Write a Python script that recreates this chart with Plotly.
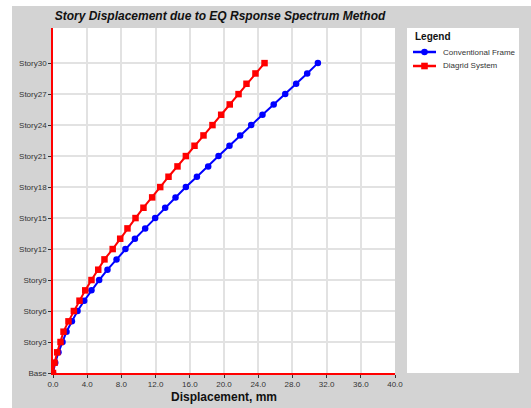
import plotly.graph_objects as go

# Story labels from the base up to the roof
stories = ["Base"] + [f"Story{i}" for i in range(1, 31)]

# Lateral displacement (mm) at each level
conventional_frame = [
    0.00, 0.26, 0.64, 1.11, 1.58, 2.21, 2.87, 3.65, 4.50, 5.40,
    6.37, 7.43, 8.47, 9.58, 10.78, 11.95, 13.12, 14.33, 15.54, 16.83,
    18.15, 19.36, 20.64, 21.89, 23.18, 24.50, 25.81, 27.16, 28.44, 29.73,
    30.98,
]
diagrid_system = [
    0.00, 0.18, 0.49, 0.88, 1.23, 1.81, 2.44, 3.10, 3.77, 4.50,
    5.29, 6.02, 6.98, 7.86, 8.71, 9.65, 10.58, 11.60, 12.54, 13.51,
    14.56, 15.54, 16.55, 17.60, 18.65, 19.67, 20.67, 21.70, 22.63, 23.68,
    24.74,
]

series_names = ["Conventional Frame", "Diagrid System"]
series_colors = ["#0000ff", "#ff0000"]
series_symbols = ["circle", "square"]

W, H = 531, 408
L, R, T, B = 53, 136, 28, 35
PW, PH = W - L - R, H - T - B


def px(x):
    return (x - L) / PW


def py(y):
    return (H - B - y) / PH


FONT = "Liberation Sans, Arial, sans-serif"
GRAY = "#d3d3d3"

fig = go.Figure()
for name, vals, color, sym in zip(series_names, [conventional_frame, diagrid_system],
                                  series_colors, series_symbols):
    fig.add_trace(go.Scatter(
        x=vals, y=stories, name=name, showlegend=False,
        mode="lines+markers", line=dict(color=color, width=2),
        marker=dict(symbol=sym, size=6.5, color=color),
    ))

shapes = [
    # white strips at the left and top edges of the canvas
    dict(type="rect", xref="paper", yref="paper", x0=px(0), x1=px(12), y0=py(H), y1=py(0),
         fillcolor="white", line=dict(width=0), layer="below"),
    dict(type="rect", xref="paper", yref="paper", x0=px(0), x1=px(W), y0=py(6), y1=py(0),
         fillcolor="white", line=dict(width=0), layer="below"),
    # legend panel
    dict(type="rect", xref="paper", yref="paper", x0=px(407), x1=px(519), y0=py(373), y1=py(28),
         fillcolor="white", line=dict(width=0), layer="below"),
]

annotations = [
    dict(text="<b>Legend</b>", xref="paper", yref="paper", x=px(413), y=py(37),
         xanchor="left", yanchor="middle", showarrow=False,
         font=dict(family=FONT, size=10, color="#111111")),
]

# legend entries: sample line, marker glyph and label
for i, (name, color, sym) in enumerate(zip(series_names, series_colors, series_symbols)):
    yc = 52 + 14 * i
    shapes.append(dict(type="line", xref="paper", yref="paper",
                       x0=px(413), x1=px(436), y0=py(yc), y1=py(yc),
                       line=dict(color=color, width=2.5)))
    r = 3.3
    shapes.append(dict(type="circle" if sym == "circle" else "rect",
                       xref="paper", yref="paper",
                       x0=px(424.5 - r), x1=px(424.5 + r), y0=py(yc + r), y1=py(yc - r),
                       fillcolor=color, line=dict(width=0)))
    annotations.append(dict(text=name, xref="paper", yref="paper", x=px(441), y=py(yc),
                            xanchor="left", yanchor="middle", showarrow=False,
                            font=dict(family=FONT, size=8, color="#333333")))

fig.update_layout(
    width=W, height=H,
    margin=dict(l=L, r=R, t=T, b=B, pad=0, autoexpand=False),
    paper_bgcolor=GRAY, plot_bgcolor="white",
    font=dict(family=FONT, size=8, color="#333333"),
    title=dict(text="<b><i>Story Displacement due to EQ Rsponse Spectrum Method</i></b>",
               x=px(220), xanchor="center", y=1 - 16 / H, yanchor="middle",
               xref="paper", yref="container",
               font=dict(family=FONT, size=12, color="#111111")),
    shapes=shapes,
    annotations=annotations,
    showlegend=False,
    xaxis=dict(
        range=[0, 40], dtick=4, tick0=0, tickformat=".1f", automargin=False,
        showgrid=True, gridcolor="#e2e2e2", gridwidth=1.5,
        zeroline=False, showline=True, linecolor="#ff0000", linewidth=1.5,
        ticks="outside", ticklen=3, tickcolor="#333333",
        tickfont=dict(size=8, color="#333333"),
        title=dict(text="<b>Displacement, mm</b>", font=dict(family=FONT, size=12, color="#111111"),
                   standoff=4),
    ),
    yaxis=dict(
        type="category", categoryorder="array", categoryarray=stories,
        range=[0, 33.4], tickvals=stories[::3], automargin=False,
        showgrid=True, gridcolor="#e2e2e2", gridwidth=1.5,
        zeroline=False, showline=True, linecolor="#ff0000", linewidth=1.5,
        ticks="outside", ticklen=3, tickcolor="#333333",
        tickfont=dict(size=8, color="#333333"),
    ),
)

fig.write_html("out.html")
